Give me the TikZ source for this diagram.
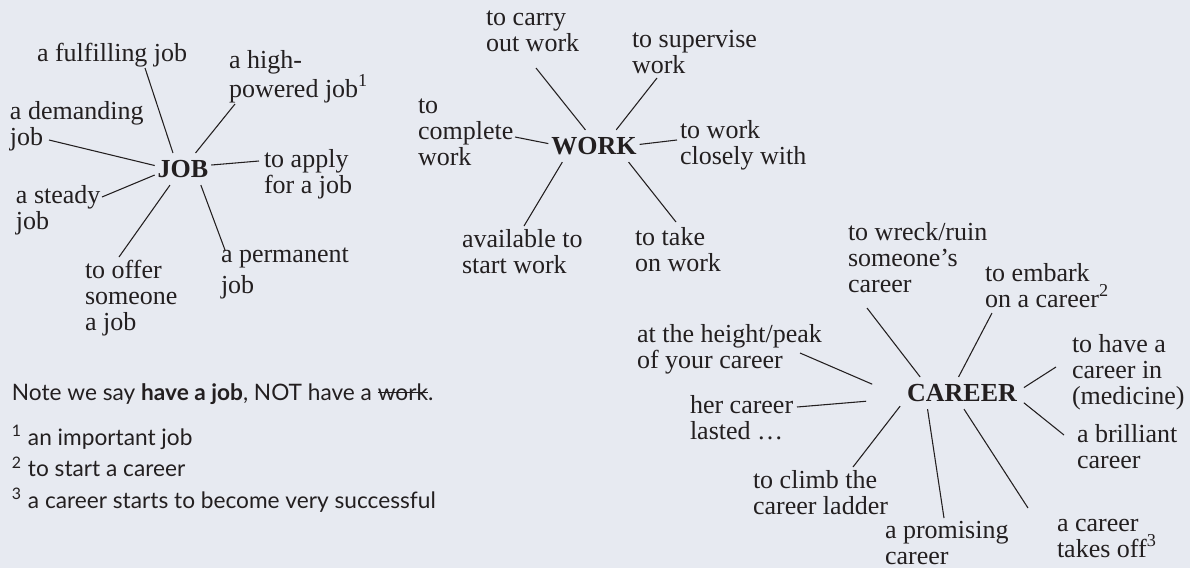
\documentclass[tikz,border=0pt]{standalone}
\usepackage{fontspec}
\setmainfont{Liberation Serif}
\newfontfamily\notefont{Lato}
\usetikzlibrary{calc}

\definecolor{bgpanel}{RGB}{231,234,241}
\definecolor{inkgray}{RGB}{35,31,32}

\newcommand\strikeword[1]{\setbox0\hbox{#1}\rlap{\rule[0.3em]{\wd0}{0.07em}}\box0}

\begin{document}
\begin{tikzpicture}[
    x=0.75pt, y=-0.75pt,
    every node/.style = {inner sep=0pt, outer sep=0pt, text=inkgray},
    hub/.style = {font=\fontsize{19.5}{22}\selectfont\bfseries, inner xsep=2.25pt, inner ysep=5.5pt},
    leaf/.style = {font=\fontsize{19.5}{19.5}\selectfont, align=left, anchor=base west},
    note/.style = {font=\notefont\fontsize{17}{23.6}\selectfont, align=left, anchor=base west},
    spoke/.style = {draw=inkgray, line width=0.8pt}
]
    \fill[bgpanel] (0,0) rectangle (1190,568);

    % JOB (leaves sit on the baseline of their last line)
    \node[hub] (job) at (183,169) {JOB};
    \node[leaf] (fulfil) at (37,61) {a fulfilling job};
    \node[leaf] (highpow) at (229,97) {a high-\\powered job\textsuperscript{1}};
    \node[leaf] (demand) at (10,145) {a demanding\\job};
    \node[leaf] (apply) at (264,193) {to apply\\for a job};
    \node[leaf] (steady) at (16,229) {a steady\\job};
    \node[leaf] (offer) at (85,330) {to offer\\someone\\a job};
    \node[leaf] (perm) at (221,293) {a permanent\\[3.75pt]job};

    \draw[spoke] (job.122) -- ($(fulfil.base west)+(108,7)$);
    \draw[spoke] (job.52) -- ($(highpow.base west)+(6,7)$);
    \draw[spoke] (job.173) -- ($(demand.base west)+(39,-5)$);
    \draw[spoke] (job.8) -- ($(apply.base west)+(-5,-32)$);
    \draw[spoke] (job.192) -- ($(steady.base west)+(86,-32)$);
    \draw[spoke] (job.231) -- ($(offer.base west)+(34,-73)$);
    \draw[spoke] (job.318) -- ($(perm.base west)+(4,-43)$);

    % WORK
    \node[hub] (work) at (594,146) {WORK};
    \node[leaf] (carry) at (486,51) {to carry\\out work};
    \node[leaf] (superv) at (632,73) {to supervise\\work};
    \node[leaf] (complete) at (418,165) {to\\complete\\work};
    \node[leaf] (closely) at (680,164) {to work\\closely with};
    \node[leaf] (avail) at (462,273) {available to\\start work};
    \node[leaf] (takeon) at (635,271) {to take\\on work};

    \draw[spoke] (work.118) -- ($(carry.base west)+(50,17)$);
    \draw[spoke] (work.36) -- ($(superv.base west)+(25,5)$);
    \draw[spoke] (work.177) -- ($(complete.base west)+(97,-28)$);
    \draw[spoke] (work.2) -- ($(closely.base west)+(-3,-24)$);
    \draw[spoke] (work.207) -- ($(avail.base west)+(62,-47)$);
    \draw[spoke] (work.335) -- ($(takeon.base west)+(41,-49)$);

    % CAREER
    \node[hub, inner xsep=5.25pt] (career) at (962,393) {CAREER};
    \node[leaf] (wreck) at (848,292) {to wreck/ruin\\someone's\\career};
    \node[leaf] (embark) at (985,307) {to embark\\on a career\textsuperscript{2}};
    \node[leaf] (peak) at (637,368) {at the height/peak\\of your career};
    \node[leaf] (medic) at (1072,404) {to have a\\career in\\(medicine)};
    \node[leaf] (lasted) at (690,439) {her career\\lasted \dots};
    \node[leaf] (brill) at (1077,468) {a brilliant\\career};
    \node[leaf] (ladder) at (753,514) {to climb the\\career ladder};
    \node[leaf] (promis) at (885,564) {a promising\\career};
    \node[leaf] (takesoff) at (1057,557) {a career\\takes off\textsuperscript{3}};

    \draw[spoke] (career.159) -- ($(wreck.base west)+(19,16)$);
    \draw[spoke] (career.102) -- ($(embark.base west)+(7,6)$);
    \draw[spoke, shorten <=22.8pt] (career.183) -- ($(peak.base west)+(163,-15)$);
    \draw[spoke] (career.5.5) -- ($(medic.base west)+(-16,-37)$);
    \draw[spoke, shorten <=25.6pt] (career.185) -- ($(lasted.base west)+(107,-32)$);
    \draw[spoke] (career.351) -- ($(brill.base west)+(-13,-33)$);
    \draw[spoke] (career.192) -- ($(ladder.base west)+(100,-47)$);
    \draw[spoke] (career.205) -- ($(promis.base west)+(59,-46)$);
    \draw[spoke] (career.277.5) -- ($(takesoff.base west)+(-29,-49)$);

    % notes
    \node[note] (usage) at (12,400) {Note we say \textbf{have a job}, NOT have a \strikeword{work}.};
    \node[note] (fnotes) at (12,508) {\makebox[12pt][l]{\textsuperscript{1}}an important job\\
        \makebox[12pt][l]{\textsuperscript{2}}to start a career\\
        \makebox[12pt][l]{\textsuperscript{3}}a career starts to become very successful};
\end{tikzpicture}
\end{document}
